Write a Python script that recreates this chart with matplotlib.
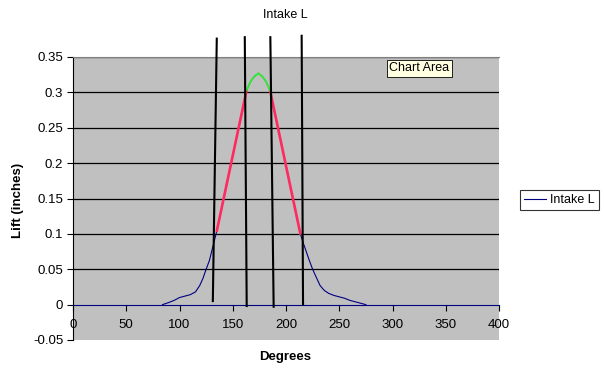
import matplotlib.pyplot as plt
import numpy as np

plt.rcParams['font.family'] = ['Liberation Sans', 'DejaVu Sans']

# intake lift curve (degrees vs lift in inches)
deg = [84, 90, 95, 100, 105, 110, 115, 119, 122, 125, 128, 131, 133, 135,
       163, 167, 170, 174, 178, 181, 185,
       213.5, 216, 219, 222, 225, 228, 232, 236, 240, 245, 250, 255, 260, 265, 270, 275]
lift = [0, 0.003, 0.006, 0.010, 0.012, 0.014, 0.018, 0.027, 0.037, 0.050, 0.062, 0.080, 0.092, 0.104,
        0.303, 0.316, 0.322, 0.327, 0.322, 0.316, 0.303,
        0.100, 0.088, 0.075, 0.062, 0.050, 0.040, 0.027, 0.020, 0.016, 0.013, 0.011, 0.009, 0.006, 0.004, 0.002, 0]

# hand drawn overlays
red_l_x = [135, 163]
red_l_y = [0.104, 0.303]
red_r_x = [185, 213.5]
red_r_y = [0.303, 0.100]
green_x = [163, 167, 170, 174, 178, 181, 185]
green_y = [0.303, 0.316, 0.322, 0.327, 0.322, 0.316, 0.303]

# vertical marker lines: (x top, y top, x bottom, y bottom)
vlines = [(135.0, 0.376, 131.3, 0.005),
          (161.3, 0.378, 163.1, -0.002),
          (185.3, 0.378, 188.4, -0.003),
          (214.7, 0.380, 216.0, 0.0)]

fig = plt.figure(figsize=(6.04, 3.74), dpi=100)
ax = fig.add_axes([73/604, 1-340/374, 426/604, 283/374])
ax.set_facecolor('#C0C0C0')

ax.set_xlim(0, 400)
ax.set_ylim(-0.05, 0.35)
ax.set_xticks(np.arange(0, 401, 50))
ax.set_yticks(np.arange(-0.05, 0.351, 0.05))
ax.set_yticklabels(['-0.05', '0', '0.05', '0.1', '0.15', '0.2', '0.25', '0.3', '0.35'])

for v in np.arange(0.05, 0.351, 0.05):
    ax.axhline(v, color='black', lw=0.9, zorder=1)

ax.spines['bottom'].set_position(('data', 0))
ax.spines['bottom'].set_color('#000080')
ax.spines['bottom'].set_linewidth(0.8)
ax.spines['left'].set_color('black')
ax.spines['top'].set_color('#808080')
ax.spines['right'].set_visible(False)
ax.tick_params(axis='x', direction='out', length=4, pad=6, labelsize=9.5, color='black')
ax.tick_params(axis='y', direction='out', length=4, pad=3, labelsize=9.5)

ax.plot(deg, lift, color='#000080', lw=0.8, label='Intake L', zorder=3)
ax.plot(red_l_x, red_l_y, color='#FF2A5F', lw=1.9, zorder=4, solid_capstyle='round')
ax.plot(red_r_x, red_r_y, color='#FF2A5F', lw=1.9, zorder=4, solid_capstyle='round')
ax.plot(green_x, green_y, color='#33EE33', lw=1.3, zorder=4)
for xt, yt, xb, yb in vlines:
    ax.plot([xt, xb], [yt, yb], color='black', lw=1.5, zorder=5, clip_on=False)

fig.text(285/604, 1-15/374, 'Intake L', ha='center', va='center', fontsize=9)
fig.text(18/604, 1-200/374, 'Lift (inches)', rotation=90, ha='center', va='center',
         fontsize=9.5, fontweight='bold')
fig.text(285/604, 1-357/374, 'Degrees', ha='center', va='center', fontsize=9.5, fontweight='bold')

fig.text(389/604, 1-68/374, 'Chart Area', ha='left', va='center', fontsize=9,
         bbox=dict(boxstyle='square,pad=0.2', fc='#FFFFE1', ec='black', lw=0.6))

leg = fig.legend(loc='center left', bbox_to_anchor=(520/604, 1-200/374), fontsize=9,
                 frameon=True, fancybox=False, handlelength=1.7, borderpad=0.35,
                 handletextpad=0.35, borderaxespad=0)
leg.get_frame().set_edgecolor('black')
leg.get_frame().set_linewidth(0.8)

fig.savefig('out.png', dpi=100)
